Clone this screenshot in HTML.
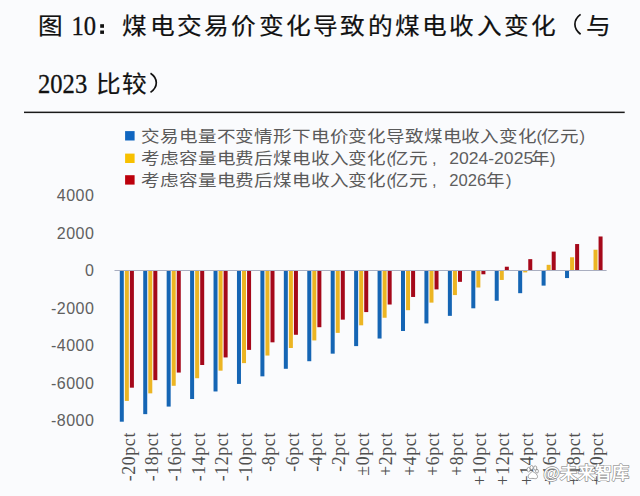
<!DOCTYPE html>
<html lang="zh-CN"><head><meta charset="utf-8">
<style>
html,body{margin:0;padding:0;background:#fafbfd;}
body{width:640px;height:496px;overflow:hidden;position:relative;}
svg{position:absolute;left:0;top:0;}
.tc{font-family:"Liberation Sans",sans-serif;font-size:23.5px;fill:#111;stroke:#111;stroke-width:0.2px;}
.tl{font-family:"Liberation Serif",serif;font-size:24.6px;fill:#111;stroke:#111;stroke-width:0.3px;}
.lc{font-family:"Liberation Sans",sans-serif;font-size:17.2px;fill:#5a5a5a;}
.ll{font-family:"Liberation Sans",sans-serif;font-size:16.5px;fill:#5e5e5e;}
.yl{font-family:"Liberation Sans",sans-serif;font-size:16px;fill:#606060;letter-spacing:0.5px;}
.xl{font-family:"Liberation Serif",serif;font-size:17.8px;fill:#505050;letter-spacing:0.65px;}
.wm{font-family:"Liberation Sans",sans-serif;font-size:17px;font-weight:bold;fill:#fff;stroke:#8c8c8c;stroke-width:1.3px;paint-order:stroke;stroke-linejoin:round;}
</style></head>
<body>
<svg width="640" height="496" viewBox="0 0 640 496">
<g transform="translate(0,34.0) scale(1.05,0.99)"><text class="tc" x="47.86" y="0" text-anchor="middle">图</text></g>
<text class="tl" transform="translate(71.4,35.1) scale(1,1.09)">10</text>
<rect x="100.2" y="24.2" width="3.8" height="3.6" fill="#111"/><rect x="100.2" y="30.5" width="3.8" height="3.4" fill="#111"/>
<g transform="translate(0,34.0) scale(1.05,0.99)"><text class="tc" x="128.38 154.32 180.27 206.21 232.15 258.10 284.04 309.98 335.92 361.87 387.81 413.75 439.70 465.64 491.58 517.52" y="0" text-anchor="middle">煤电交易价变化导致的煤电收入变化</text></g>
<g transform="translate(0,34.0) scale(1.05,0.99)"><text class="tc" x="569.41" y="0" text-anchor="middle">与</text></g>
<path d="M580.6,14.4 C576.2,17.6 574.9,21.2 574.9,24.3 C574.9,27.4 576.2,31 580.6,34.2" fill="none" stroke="#111" stroke-width="1.7"/>
<text class="tl" transform="translate(38,93.2) scale(1,1.09)">2023</text>
<g transform="translate(0,91.8) scale(1.05,0.99)"><text class="tc" x="102.76 127.71" y="0" text-anchor="middle">比较</text></g>
<path d="M150.5,73.3 C155.2,76.5 156.3,80 156.3,82.8 C156.3,85.6 155.2,89.1 150.5,92.4" fill="none" stroke="#111" stroke-width="1.7"/>
<g transform="translate(0,141.7) scale(1.08,0.94)"><text class="lc" x="139.17 156.60 174.04 191.47 208.91 226.34 243.78 261.21 278.65 296.08 313.52 330.95 348.39 365.82 383.26 400.69 418.13 435.56 453.00 470.44 487.87" y="0" text-anchor="middle">交易电量不变情形下电价变化导致煤电收入变化</text></g>
<text class="ll" x="536.6" y="141.5">(</text>
<g transform="translate(0,141.7) scale(1.08,0.94)"><text class="lc" x="509.54 527.04" y="0" text-anchor="middle">亿元</text></g>
<text class="ll" x="579.6" y="141.5">)</text>
<g transform="translate(0,164.2) scale(1.08,0.94)"><text class="lc" x="139.17 156.60 174.04 191.47 208.91 226.34 243.78 261.21 278.65 296.08 313.52 330.95 348.39" y="0" text-anchor="middle">考虑容量电费后煤电收入变化</text></g>
<text class="ll" x="386.6" y="164.0">(</text>
<g transform="translate(0,164.2) scale(1.08,0.94)"><text class="lc" x="369.54 386.94" y="0" text-anchor="middle">亿元</text></g>
<text class="ll" x="432.0" y="164.0">,</text>
<text class="ll" x="449.2" y="164.0" textLength="84" lengthAdjust="spacingAndGlyphs">2024-2025</text>
<g transform="translate(0,164.2) scale(1.08,0.94)"><text class="lc" x="500.19" y="0" text-anchor="middle">年</text></g>
<text class="ll" x="550.0" y="164.0">)</text>
<g transform="translate(0,185.8) scale(1.08,0.94)"><text class="lc" x="139.17 156.60 174.04 191.47 208.91 226.34 243.78 261.21 278.65 296.08 313.52 330.95 348.39" y="0" text-anchor="middle">考虑容量电费后煤电收入变化</text></g>
<text class="ll" x="386.6" y="185.60000000000002">(</text>
<g transform="translate(0,185.8) scale(1.08,0.94)"><text class="lc" x="369.54 386.94" y="0" text-anchor="middle">亿元</text></g>
<text class="ll" x="432.0" y="185.60000000000002">,</text>
<text class="ll" x="449.2" y="185.60000000000002" textLength="37" lengthAdjust="spacingAndGlyphs">2026</text>
<g transform="translate(0,185.8) scale(1.08,0.94)"><text class="lc" x="458.33" y="0" text-anchor="middle">年</text></g>
<text class="ll" x="505.9" y="185.60000000000002">)</text>
<rect x="24" y="111.6" width="600.7" height="1.5" fill="#1a1a1a"/>
<rect x="125.1" y="131.1" width="9.5" height="9.4" fill="#1066c0"/>
<rect x="125.1" y="153.6" width="9.5" height="9.4" fill="#f7c000"/>
<rect x="125.1" y="175.2" width="9.5" height="9.4" fill="#bc000c"/>
<g class="yl">
<text x="94.4" y="200.98" text-anchor="end">4000</text><text x="94.4" y="238.54" text-anchor="end">2000</text><text x="94.4" y="276.10" text-anchor="end">0</text><text x="94.4" y="313.66" text-anchor="end">-2000</text><text x="94.4" y="351.22" text-anchor="end">-4000</text><text x="94.4" y="388.78" text-anchor="end">-6000</text><text x="94.4" y="426.34" text-anchor="end">-8000</text>
</g>
<g>
<rect x="119.80" y="270.50" width="4.0" height="151.20" fill="#1565b4"/><rect x="124.85" y="270.50" width="4.0" height="130.41" fill="#ecb523"/><rect x="129.90" y="270.50" width="4.0" height="117.18" fill="#a5081a"/><rect x="143.23" y="270.50" width="4.0" height="143.64" fill="#1565b4"/><rect x="148.28" y="270.50" width="4.0" height="122.85" fill="#ecb523"/><rect x="153.33" y="270.50" width="4.0" height="109.62" fill="#a5081a"/><rect x="166.67" y="270.50" width="4.0" height="136.08" fill="#1565b4"/><rect x="171.72" y="270.50" width="4.0" height="115.29" fill="#ecb523"/><rect x="176.77" y="270.50" width="4.0" height="102.06" fill="#a5081a"/><rect x="190.10" y="270.50" width="4.0" height="128.52" fill="#1565b4"/><rect x="195.15" y="270.50" width="4.0" height="107.73" fill="#ecb523"/><rect x="200.20" y="270.50" width="4.0" height="94.50" fill="#a5081a"/><rect x="213.53" y="270.50" width="4.0" height="120.96" fill="#1565b4"/><rect x="218.58" y="270.50" width="4.0" height="100.17" fill="#ecb523"/><rect x="223.63" y="270.50" width="4.0" height="86.94" fill="#a5081a"/><rect x="236.97" y="270.50" width="4.0" height="113.40" fill="#1565b4"/><rect x="242.02" y="270.50" width="4.0" height="92.61" fill="#ecb523"/><rect x="247.07" y="270.50" width="4.0" height="79.38" fill="#a5081a"/><rect x="260.40" y="270.50" width="4.0" height="105.84" fill="#1565b4"/><rect x="265.45" y="270.50" width="4.0" height="85.05" fill="#ecb523"/><rect x="270.50" y="270.50" width="4.0" height="71.82" fill="#a5081a"/><rect x="283.83" y="270.50" width="4.0" height="98.28" fill="#1565b4"/><rect x="288.88" y="270.50" width="4.0" height="77.49" fill="#ecb523"/><rect x="293.93" y="270.50" width="4.0" height="64.26" fill="#a5081a"/><rect x="307.27" y="270.50" width="4.0" height="90.72" fill="#1565b4"/><rect x="312.32" y="270.50" width="4.0" height="69.93" fill="#ecb523"/><rect x="317.37" y="270.50" width="4.0" height="56.70" fill="#a5081a"/><rect x="330.70" y="270.50" width="4.0" height="83.16" fill="#1565b4"/><rect x="335.75" y="270.50" width="4.0" height="62.37" fill="#ecb523"/><rect x="340.80" y="270.50" width="4.0" height="49.14" fill="#a5081a"/><rect x="354.13" y="270.50" width="4.0" height="75.60" fill="#1565b4"/><rect x="359.18" y="270.50" width="4.0" height="54.81" fill="#ecb523"/><rect x="364.23" y="270.50" width="4.0" height="41.58" fill="#a5081a"/><rect x="377.57" y="270.50" width="4.0" height="68.04" fill="#1565b4"/><rect x="382.62" y="270.50" width="4.0" height="47.25" fill="#ecb523"/><rect x="387.67" y="270.50" width="4.0" height="34.02" fill="#a5081a"/><rect x="401.00" y="270.50" width="4.0" height="60.48" fill="#1565b4"/><rect x="406.05" y="270.50" width="4.0" height="39.69" fill="#ecb523"/><rect x="411.10" y="270.50" width="4.0" height="26.46" fill="#a5081a"/><rect x="424.43" y="270.50" width="4.0" height="52.92" fill="#1565b4"/><rect x="429.48" y="270.50" width="4.0" height="32.13" fill="#ecb523"/><rect x="434.53" y="270.50" width="4.0" height="18.90" fill="#a5081a"/><rect x="447.87" y="270.50" width="4.0" height="45.36" fill="#1565b4"/><rect x="452.92" y="270.50" width="4.0" height="24.57" fill="#ecb523"/><rect x="457.97" y="270.50" width="4.0" height="11.34" fill="#a5081a"/><rect x="471.30" y="270.50" width="4.0" height="37.80" fill="#1565b4"/><rect x="476.35" y="270.50" width="4.0" height="17.01" fill="#ecb523"/><rect x="481.40" y="270.50" width="4.0" height="3.78" fill="#a5081a"/><rect x="494.73" y="270.50" width="4.0" height="30.24" fill="#1565b4"/><rect x="499.78" y="270.50" width="4.0" height="9.45" fill="#ecb523"/><rect x="504.83" y="266.72" width="4.0" height="3.78" fill="#a5081a"/><rect x="518.17" y="270.50" width="4.0" height="22.68" fill="#1565b4"/><rect x="523.22" y="270.50" width="4.0" height="1.89" fill="#ecb523"/><rect x="528.27" y="259.16" width="4.0" height="11.34" fill="#a5081a"/><rect x="541.60" y="270.50" width="4.0" height="15.12" fill="#1565b4"/><rect x="546.65" y="264.83" width="4.0" height="5.67" fill="#ecb523"/><rect x="551.70" y="251.60" width="4.0" height="18.90" fill="#a5081a"/><rect x="565.03" y="270.50" width="4.0" height="7.56" fill="#1565b4"/><rect x="570.08" y="257.27" width="4.0" height="13.23" fill="#ecb523"/><rect x="575.13" y="244.04" width="4.0" height="26.46" fill="#a5081a"/><rect x="593.52" y="249.71" width="4.0" height="20.79" fill="#ecb523"/><rect x="598.57" y="236.48" width="4.0" height="34.02" fill="#a5081a"/>
</g>
<rect x="114.5" y="270.00" width="492.10" height="1" fill="#a9aec0"/>
<g class="xl">
<text transform="translate(134.50,432) rotate(-90)" text-anchor="end">-20pct</text><text transform="translate(157.93,432) rotate(-90)" text-anchor="end">-18pct</text><text transform="translate(181.37,432) rotate(-90)" text-anchor="end">-16pct</text><text transform="translate(204.80,432) rotate(-90)" text-anchor="end">-14pct</text><text transform="translate(228.23,432) rotate(-90)" text-anchor="end">-12pct</text><text transform="translate(251.67,432) rotate(-90)" text-anchor="end">-10pct</text><text transform="translate(275.10,432) rotate(-90)" text-anchor="end">-8pct</text><text transform="translate(298.53,432) rotate(-90)" text-anchor="end">-6pct</text><text transform="translate(321.97,432) rotate(-90)" text-anchor="end">-4pct</text><text transform="translate(345.40,432) rotate(-90)" text-anchor="end">-2pct</text><text transform="translate(368.83,432) rotate(-90)" text-anchor="end">±0pct</text><text transform="translate(392.27,432) rotate(-90)" text-anchor="end">+2pct</text><text transform="translate(415.70,432) rotate(-90)" text-anchor="end">+4pct</text><text transform="translate(439.13,432) rotate(-90)" text-anchor="end">+6pct</text><text transform="translate(462.57,432) rotate(-90)" text-anchor="end">+8pct</text><text transform="translate(486.00,432) rotate(-90)" text-anchor="end">+10pct</text><text transform="translate(509.43,432) rotate(-90)" text-anchor="end">+12pct</text><text transform="translate(532.87,432) rotate(-90)" text-anchor="end">+14pct</text><text transform="translate(556.30,432) rotate(-90)" text-anchor="end">+16pct</text><text transform="translate(579.73,432) rotate(-90)" text-anchor="end">+18pct</text><text transform="translate(603.17,432) rotate(-90)" text-anchor="end">+20pct</text>
</g>
<g fill="#fff" stroke="#8a8a8a" stroke-width="0.8">
<ellipse cx="528.6" cy="469.6" rx="1.6" ry="2.2"/>
<ellipse cx="531.6" cy="467.6" rx="1.6" ry="2.1"/>
<ellipse cx="535.2" cy="468.0" rx="1.6" ry="2.1"/>
<ellipse cx="537.0" cy="471.2" rx="1.4" ry="1.9"/>
<path d="M532.3 471.5 C529.5 473.5 527.4 475.5 528.4 477.6 C529.5 479.2 531.5 478.2 533 478.4 C534.8 478.6 536.8 479.2 537.4 477.4 C538.2 475.2 535.2 472.6 532.3 471.5 Z"/>
</g><text class="wm" x="551.50 568.70 586.70 603.50 620.70" y="478.6" text-anchor="middle">@未来智库</text>
</svg>
</body></html>
